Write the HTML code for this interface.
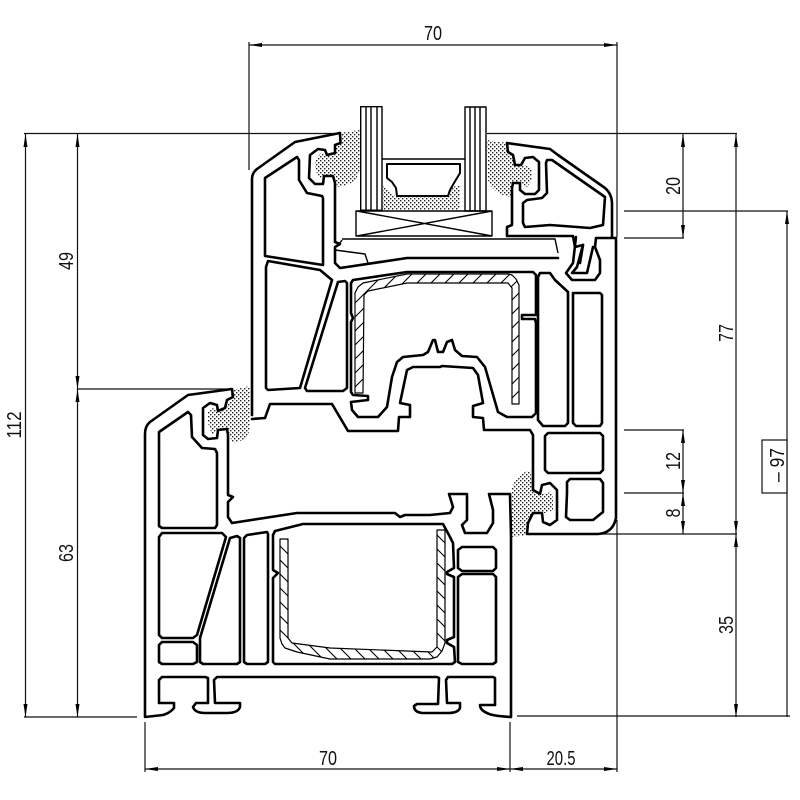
<!DOCTYPE html>
<html><head><meta charset="utf-8"><style>
html,body{margin:0;padding:0;background:#fff}
svg{display:block}
text{font-family:"Liberation Sans",sans-serif;font-size:20px;fill:#111;text-anchor:middle}
.h{fill:none;stroke:#000;stroke-width:2.6;stroke-linejoin:round;stroke-linecap:round}
.m{fill:none;stroke:#000;stroke-width:1.4;stroke-linejoin:round}
.d{fill:none;stroke:#111;stroke-width:1.2}
.a{fill:#000;stroke:none}
</style></head><body>
<svg width="800" height="800" viewBox="0 0 800 800" xmlns="http://www.w3.org/2000/svg">
<defs>
<pattern id="dots" width="4" height="4" patternUnits="userSpaceOnUse"><rect width="4" height="4" fill="#fff"/><rect x="0" y="0" width="1.4" height="1.4" fill="#222"/><rect x="2" y="2" width="1.4" height="1.4" fill="#222"/></pattern>
<pattern id="h1" width="14" height="14" patternUnits="userSpaceOnUse"><rect width="14" height="14" fill="#fff"/><path d="M-2,16L16,-2M-2,2L2,-2M12,16L16,12" stroke="#000" stroke-width="1.1"/></pattern>
<pattern id="h2" width="14" height="14" patternUnits="userSpaceOnUse"><rect width="14" height="14" fill="#fff"/><path d="M-2,-2L16,16M-2,12L2,16M12,-2L16,2" stroke="#000" stroke-width="1.1"/></pattern>
</defs>

<!-- extension lines -->
<path class="d" d="M249,42V170M617,42V237M24,133.5H340M77,389H232M24,717H137M487,133.5H737M624,211H788M624,238H684M624,430H684M624,493H684M600,534H737M517,716H790M145,722V772M510,722V772M617,520V772"/>
<!-- dimension lines -->
<path class="d" d="M249,45H617M25.5,134V717M77.5,134V717M683,134V238M736,134V717M787,211V717M683,430V534M145,769H617"/>
<rect x="762" y="440" width="25" height="53" fill="#fff" stroke="#111" stroke-width="1.2"/>
<!-- arrowheads -->
<path class="a" d="M249,45l13,-2v4zM617,45l-13,-2v4zM25.5,134l-2,13h4zM25.5,717l-2,-13h4zM77.5,134l-2,13h4zM77.5,389l-2,-13h4zM77.5,389l-2,13h4zM77.5,717l-2,-13h4zM683,134l-2,13h4zM683,238l-2,-13h4zM736,134l-2,13h4zM736,534l-2,-13h4zM736,534l-2,13h4zM736,717l-2,-13h4zM787,211l-2,13h4zM683,430l-2,13h4zM683,493l-2,-13h4zM683,493l-2,13h4zM683,534l-2,-13h4zM145,769l13,-2v4zM510,769l-13,-2v4zM510,769l13,-2v4zM617,769l-13,-2v4z"/>
<!-- dimension text -->
<text x="433" y="40" textLength="18" lengthAdjust="spacingAndGlyphs">70</text>
<text x="328" y="765" textLength="18" lengthAdjust="spacingAndGlyphs">70</text>
<text x="561" y="765" textLength="29" lengthAdjust="spacingAndGlyphs">20.5</text>
<text transform="translate(21,425) rotate(-90)" textLength="27" lengthAdjust="spacingAndGlyphs">112</text>
<text transform="translate(73,261) rotate(-90)" textLength="18" lengthAdjust="spacingAndGlyphs">49</text>
<text transform="translate(73,553) rotate(-90)" textLength="18" lengthAdjust="spacingAndGlyphs">63</text>
<text transform="translate(680,186) rotate(-90)" textLength="18" lengthAdjust="spacingAndGlyphs">20</text>
<text transform="translate(680,461) rotate(-90)" textLength="18" lengthAdjust="spacingAndGlyphs">12</text>
<text transform="translate(680,513) rotate(-90)" textLength="9" lengthAdjust="spacingAndGlyphs">8</text>
<text transform="translate(733,333) rotate(-90)" textLength="18" lengthAdjust="spacingAndGlyphs">77</text>
<text transform="translate(733,625) rotate(-90)" textLength="18" lengthAdjust="spacingAndGlyphs">35</text>
<text transform="translate(784,465) rotate(-90)" textLength="34" lengthAdjust="spacingAndGlyphs">– 97</text>

<!-- gaskets (dotted) -->
<path fill="url(#dots)" d="M340,133L360,130V170L357,177L353,182L346,185L337,187L335,175H324L320,178L315,170V160L320,153L325,155L335,153L336,145L340,143Z"/>
<path fill="url(#dots)" d="M487,140L507,143L508,152L514,157L515,165H523L532,168V180L527,187L521,183H513L512,197L505,196L498,193L491,187L488,180Z"/>
<path fill="url(#dots)" d="M232,390L250,386V430L247,436L243,440L232,443L228,430L218,428L212,435L208,423V412L213,408L225,410L230,400Z"/>
<path fill="url(#dots)" d="M511,493L513,484L518,477L525,472L530,470L533,490L540,494L552,492L553,500V510L545,513H533L528,523L527,535L511,537Z"/>
<path fill="url(#dots)" d="M383,185L392,193L397,197H448L452,187L460,185V210H383Z"/>

<!-- glass -->
<g class="m" fill="#fff">
<rect x="360.7" y="106.7" width="21.3" height="103.5"/>
<path d="M366,107V210M371,107V210M377,107V210"/>
<rect x="465" y="107" width="21" height="104"/>
<path d="M470,107V211M475,107V211M480,107V211"/>
<path d="M382,159H465"/>
<path d="M387,164H460V173L454,183L450,190L448,196H397L396,188L392,182L387,178Z" stroke-width="2"/>
<path d="M356,211H492V236H356ZM357,211L492,236M357,236L492,211"/>
<path d="M342,239H555L558,253"/>
<path d="M335,250L365,254L368,263"/>
<path d="M342,240L340,243"/>
</g>

<!-- steel reinforcements -->
<path fill="url(#h1)" stroke="#000" stroke-width="1.2" stroke-linejoin="round" d="M355,393V293L358,287L363,283L407,274H508L512,275L516,279L519,285V404H512V288L508,283H407L368,291L364,295L363,393Z"/>
<path fill="url(#h2)" stroke="#000" stroke-width="1.2" stroke-linejoin="round" d="M280,539H288V638L292,643L330,648L432,652L437,647V530H445V643L442,651L437,657L430,659H330L297,652L285,648L282,644L280,638Z"/>

<!-- top sash outer -->
<path class="h" d="M252,415V179Q252,173 257,169L295,142L340,133L340.5,143L335,145V153L327,155L325,150L318,149L310,155L309,178L315,184H323L324,176H333L335,183V242L340,244L335,247V263L340,268L347,267L407,258H558"/>
<path class="h" d="M252,419L265,418L270,404H332L348,431H398L399,417H410V405L400,403L407,370L413,367H440L442,366L473,368L478,375L483,403L473,406V417L483,418L484,430H530L533,435V490L540,494L542,485L550,483L557,490V520L550,525L543,522L542,513H533L528,523L527,534H598Q613,533 616,518V238H597"/>
<path class="h" d="M507,143L550,149L558,155L605,188Q612,194 612,204V237"/>
<path class="h" d="M507,143L508,152L513,155L515,165H521L525,158L533,157L539,162V190L535,194H525L520,190V183H513L512,188V225L507,227V236H573L575,247L583,245L580,263"/>
<path class="h" d="M547,160H552L605,197L603,225L590,228L577,227L550,225L525,227L523,223V203L527,200L542,198L547,193L546,163Z"/>
<path class="h" d="M596,238L595,247L600,260V273L595,280H572L566,273L573,263L576,237"/>
<path class="h" d="M593,247L587,273H572L577,267L583,245"/>

<!-- top sash chambers -->
<path class="h" d="M265,178L297,157L299,160V180L307,193L322,196L323,198V265L265,256Z"/>
<path class="h" d="M266,267L268,261L320,270L332,280L300,388L268,390L266,388Z"/>
<path class="h" d="M338,282L345,281L347,283V388L343,391H307L305,388Z"/>
<path class="h" d="M351,283L353,280L407,272H533L536,275V315H522V319H535L536,323V413L532,417H507L498,412L485,367L477,357L462,356L455,350L452,340L447,342L443,352H438L435,340L433,340L428,352L423,355L403,357L397,362L392,377L387,407L378,417H358L352,410L351,402L368,400V396L353,395L351,392V322L353,318L351,313Z"/>
<path class="h" d="M540,273H550L555,280L568,292V423L565,426H543L538,420V277Z"/>
<path class="h" d="M573,293H600L602,295V423L600,426H576L573,423Z"/>
<path class="h" d="M545,436L548,433H600L603,436V470L600,473H548L545,470Z"/>
<path class="h" d="M567,482L570,479H600L603,483V512L593,520H570L566,517L567,493Z"/>

<!-- bottom frame outer -->
<path class="h" d="M145,717V434Q145,426 150,422L188,395L232,389L233,397L227,400L225,408L218,411L217,405L210,403L203,408V435L208,439L217,438L218,430L227,429L228,435V495L233,497L228,502V517L232,523L297,513H395L400,517L405,515H430L450,513L453,507L449,494H467V520L462,525L465,533H487L493,523V510L489,494H510L511,535V717Q492,716 487,713Q480,710 480,705H495V678L493,677H448L446,680L447,703H460V708Q458,713 448,713H422Q414,712 414,706L417,704H438L439,678L437,677H217L214,680L215,703H240V707Q238,713 227,713H205Q195,713 193,707L196,703H208V678L205,677H162L159,680V703H174V708Q170,713 163,715L145,717Z"/>

<!-- bottom frame chambers -->
<path class="h" d="M159,432L188,412L191,415L192,437L202,448L215,449L217,453V525L215,528H162L159,526Z"/>
<path class="h" d="M159,537L162,533H222L226,537L197,635L193,638H162L159,635Z"/>
<path class="h" d="M159,645L162,642H193L197,645V662L193,664H162L159,662Z"/>
<path class="h" d="M230,538L237,536L240,538V662L237,664H203L200,662V638Z"/>
<path class="h" d="M244,538L247,535L267,532L268,534V662L265,664H247L244,662Z"/>
<path class="h" d="M273,570V535L275,531L303,524H443L450,537L453,543L454,568L447,572V574L454,577V637L447,640V643L454,647L455,662L452,664H275L273,662V578L278,573Z"/>
<path class="h" d="M458,550L462,547H493L496,550V568L493,571H462L458,568Z"/>
<path class="h" d="M458,577L462,574H493L496,577V662L493,664H462L458,662Z"/>
</svg>
</body></html>
